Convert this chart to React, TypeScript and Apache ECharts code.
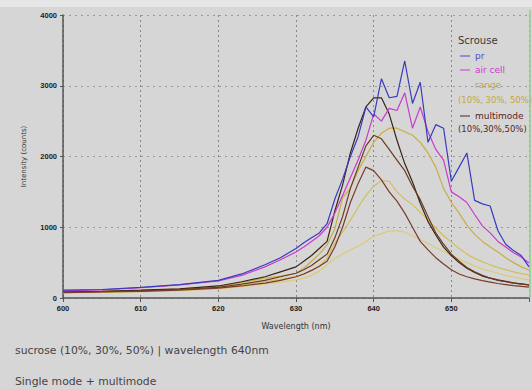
import React, { useEffect, useRef } from "react";
import * as echarts from "echarts";

const wavelengths = [600, 605, 610, 615, 620, 623, 626, 628, 630, 631, 632, 633, 634, 635, 636, 637, 638, 639, 640, 641, 642, 643, 644, 645, 646, 647, 648, 649, 650, 651, 652, 653, 654, 655, 656, 657, 658, 659, 660];

const prValues = [110, 120, 150, 190, 250, 340, 470, 570, 700, 780, 850, 920, 1050, 1400, 1680, 2000, 2280, 2700, 2560, 3100, 2830, 2850, 3350, 2750, 3050, 2200, 2450, 2400, 1650, 1850, 2050, 1380, 1330, 1300, 950, 760, 670, 600, 440];
const airCellValues = [100, 115, 145, 185, 240, 320, 440, 540, 650, 720, 800, 880, 1000, 1200, 1450, 1700, 1950, 2230, 2600, 2500, 2680, 2650, 2900, 2400, 2700, 2350, 2100, 1950, 1500, 1430, 1350, 1180, 1020, 920, 800, 720, 640, 580, 495];
const range10 = [85, 95, 105, 125, 160, 220, 280, 310, 350, 420, 520, 620, 750, 980, 1420, 1550, 1800, 2000, 2200, 2330, 2400, 2400, 2350, 2300, 2200, 2050, 1850, 1550, 1350, 1200, 1030, 900, 800, 720, 650, 570, 500, 440, 395];
const range30 = [75, 85, 95, 110, 140, 180, 230, 265, 300, 340, 390, 450, 560, 780, 930, 1100, 1280, 1450, 1580, 1660, 1650, 1500, 1400, 1320, 1210, 1100, 990, 880, 790, 700, 620, 560, 510, 470, 430, 400, 370, 345, 325];
const range50 = [70, 80, 90, 105, 130, 160, 200, 225, 255, 280, 320, 380, 470, 560, 620, 680, 730, 800, 870, 910, 950, 950, 930, 880, 830, 770, 710, 660, 600, 550, 500, 450, 410, 380, 350, 320, 295, 275, 255];
const multi10 = [90, 95, 110, 130, 170, 230, 300, 370, 440, 520, 600, 700, 800, 1230, 1600, 2050, 2400, 2700, 2830, 2830, 2600, 2230, 1900, 1640, 1340, 1080, 890, 720, 600, 500, 420, 360, 310, 280, 255, 235, 215, 200, 185];
const multi30 = [80, 90, 100, 120, 150, 195, 250, 300, 350, 400, 460, 540, 620, 850, 1150, 1550, 1850, 2150, 2300, 2250, 2100, 1950, 1800, 1580, 1390, 1150, 920, 760, 620, 520, 430, 370, 320, 280, 250, 230, 210, 195, 185];
const multi50 = [75, 85, 95, 110, 140, 170, 210, 250, 300, 340, 390, 450, 520, 720, 1000, 1350, 1620, 1850, 1800, 1670, 1500, 1370, 1200, 1000, 800, 680, 570, 480, 400, 340, 300, 270, 245, 225, 205, 190, 175, 165, 155];

const yTicks = [0, 1000, 2000, 3000, 4000];
const xTicks = [600, 610, 620, 630, 640, 650, 660];

const seriesDefs = [
  { name: "range 10%", values: range10, color: "#c8ad48" },
  { name: "range 30%", values: range30, color: "#d3bf5e" },
  { name: "range 50%", values: range50, color: "#dccb74" },
  { name: "multimode 10%", values: multi10, color: "#3a2418" },
  { name: "multimode 30%", values: multi30, color: "#6b3a20" },
  { name: "multimode 50%", values: multi50, color: "#7a3b2b" },
  { name: "air cell", values: airCellValues, color: "#c83ccc" },
  { name: "pr", values: prValues, color: "#3a3ac0" },
];

const legendItems = [
  { text: "Scrouse", color: "#3a3a3a", line: false, size: 10, x: 458, y: 40 },
  { text: "pr", color: "#4a4ac8", line: true, size: 9, x: 475, y: 56 },
  { text: "air cell", color: "#c83ccc", line: true, size: 9, x: 475, y: 70 },
  { text: "range", color: "#c4a838", line: false, size: 9, x: 475, y: 85 },
  { text: "(10%, 30%, 50%)", color: "#c4a838", line: false, size: 8.5, x: 458, y: 100 },
  { text: "multimode", color: "#5a1f22", line: true, size: 9, x: 475, y: 116 },
  { text: "(10%,30%,50%)", color: "#5a1f22", line: false, size: 8.5, x: 458, y: 129 },
];

export default function App() {
  const ref = useRef<HTMLDivElement>(null);
  useEffect(() => {
    if (!ref.current) return;
    const chart = echarts.init(ref.current, undefined, { renderer: "svg" });
    const graphic: any[] = [
      { type: "rect", left: 0, top: 0, shape: { width: 532, height: 7 }, style: { fill: "#e6e6e6" }, z: -1 },
      { type: "line", shape: { x1: 530, y1: 10, x2: 530, y2: 298 }, style: { stroke: "#8fd08f", lineWidth: 1.5 }, z: 10 },
      { type: "text", x: 15, y: 350, style: { text: "sucrose (10%, 30%, 50%) | wavelength 640nm", fill: "#444", fontSize: 10.8, fontFamily: "DejaVu Sans", verticalAlign: "middle" } },
      { type: "text", x: 15, y: 381, style: { text: "Single mode + multimode", fill: "#444", fontSize: 10.8, fontFamily: "DejaVu Sans", verticalAlign: "middle" } },
    ];
    legendItems.forEach((it) => {
      if (it.line) {
        graphic.push({ type: "line", shape: { x1: 460, y1: it.y, x2: 470, y2: it.y }, style: { stroke: it.color, lineWidth: 1 } });
      }
      graphic.push({ type: "text", x: it.x, y: it.y, style: { text: it.text, fill: it.color, fontSize: it.size, fontFamily: "DejaVu Sans", verticalAlign: "middle" } });
    });
    chart.setOption({
      animation: false,
      backgroundColor: "#d6d6d6",
      grid: { left: 63, right: 1, top: 15, bottom: 91 },
      xAxis: {
        type: "value",
        min: xTicks[0],
        max: xTicks[xTicks.length - 1],
        interval: 10,
        name: "Wavelength (nm)",
        nameLocation: "middle",
        nameGap: 24,
        nameTextStyle: { fontSize: 8, color: "#333", fontFamily: "DejaVu Sans" },
        axisLine: { lineStyle: { color: "#555", width: 1.5 } },
        axisTick: { show: true, length: 4, lineStyle: { color: "#555" } },
        axisLabel: {
          fontSize: 7.5, fontWeight: "bold", color: "#222", margin: 6,
          formatter: (v: number) => (v === 660 ? "" : String(v)),
        },
        splitLine: { show: true, lineStyle: { color: "#888", type: [2, 3], width: 1 } },
      },
      yAxis: {
        type: "value",
        min: yTicks[0],
        max: yTicks[yTicks.length - 1],
        interval: 1000,
        name: "Intensity (counts)",
        nameLocation: "middle",
        nameGap: 36,
        nameRotate: 90,
        nameTextStyle: { fontSize: 7, color: "#333", fontFamily: "DejaVu Sans" },
        axisLine: { show: true, lineStyle: { color: "#555", width: 1.5 } },
        axisTick: { show: true, length: 3, lineStyle: { color: "#555" } },
        axisLabel: { fontSize: 7.5, fontWeight: "bold", color: "#222", margin: 6, formatter: (v: number) => String(v) },
        splitLine: { show: true, lineStyle: { color: "#999", type: [2, 4], width: 1 } },
      },
      series: seriesDefs.map((s) => ({
        name: s.name,
        type: "line",
        showSymbol: false,
        symbol: "none",
        data: wavelengths.map((w, i) => [w, s.values[i]]),
        lineStyle: { color: s.color, width: 1.2 },
        itemStyle: { color: s.color },
      })),
      graphic,
    });
    return () => chart.dispose();
  }, []);
  return <div ref={ref} style={{ width: 532, height: 389, position: "absolute", left: 0, top: 0 }} />;
}
